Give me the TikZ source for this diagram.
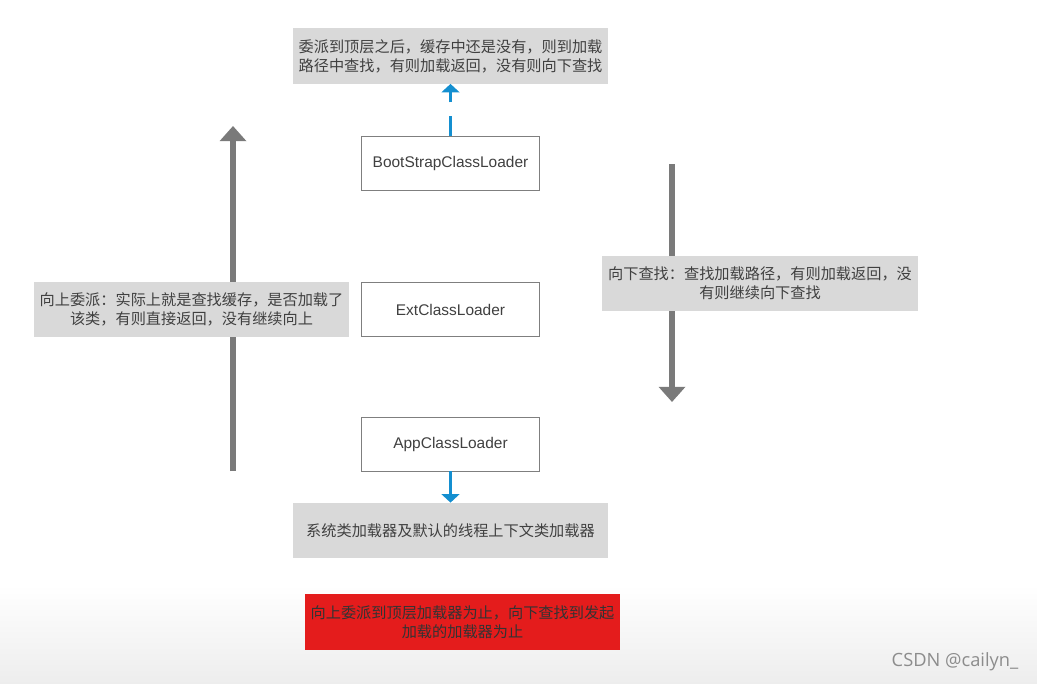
\documentclass[tikz,border=0pt]{standalone}
\usepackage{fontspec}
\setmainfont{Liberation Sans}
\newfontfamily\cjk{Noto Sans CJK SC}
\newfontfamily\wmfont{Open Sans}
\usetikzlibrary{arrows.meta}

\definecolor{textgray}{RGB}{64,64,64}
\definecolor{notegray}{RGB}{217,217,217}
\definecolor{framegray}{RGB}{127,127,127}
\definecolor{arrowgray}{RGB}{122,122,122}
\definecolor{linkblue}{RGB}{20,143,208}
\definecolor{warnred}{RGB}{228,28,28}

\begin{document}
\begin{tikzpicture}[x=0.025cm, y=-0.025cm,
	loaderbox/.style={draw=framegray, fill=white, line width=0.6pt, minimum width=4.45cm, minimum height=1.35cm, inner sep=0pt, text=textgray, font=\fontsize{11}{13}\selectfont},
	notebox/.style={fill=notegray, minimum width=7.875cm, minimum height=1.38cm, inner sep=0pt, align=center, text=textgray, font=\cjk\fontsize{10.8}{13.5}\selectfont},
	bigarrow/.style={draw=arrowgray, line width=0.16cm, -{Triangle[width=0.65cm, length=0.38cm]}},
	bluearrow/.style={draw=linkblue, line width=0.06cm, -{Triangle[width=0.44cm, length=0.21cm]}}]

		% Background
		\useasboundingbox (0,0) rectangle (1037,683);
		\fill[white] (0,0) rectangle (1037,683);
		\shade[top color=white, bottom color=black!7] (0,585) rectangle (1037,683);

		% Class loaders
		\node[loaderbox] (boot) at (450.5,163) {BootStrapClassLoader};
		\node[loaderbox] (ext) at (450.5,309.5) {ExtClassLoader};
		\node[loaderbox] (app) at (450.5,444) {AppClassLoader};

		% Notes above and below
		\node[notebox] (topnote) at (450.5,56) {委派到顶层之后，缓存中还是没有，则到加载\\路径中查找，有则加载返回，没有则向下查找};
		\node[notebox] (sysnote) at (450.5,530.5) {系统类加载器及默认的线程上下文类加载器};

		% Blue arrows
		\draw[bluearrow, dash pattern={on 0.48cm off 0.35cm}] (boot) -- (topnote);
		\draw[bluearrow] (app) -- (sysnote);

		% Upward delegation
		\coordinate (upFrom) at (233,471);
		\coordinate (upTo) at (233,126);
		\draw[bigarrow] (upFrom) -- (upTo);
		\node[notebox] (upnote) at (191.5,309.5) {向上委派：实际上就是查找缓存，是否加载了\\该类，有则直接返回，没有继续向上};

		% Downward search
		\coordinate (downFrom) at (672,164);
		\coordinate (downTo) at (672,402);
		\draw[bigarrow] (downFrom) -- (downTo);
		\node[notebox] (downnote) at (760,283.5) {向下查找：查找加载路径，有则加载返回，没\\有则继续向下查找};

		% Summary
		\node[notebox, fill=warnred, text=black!80] (summary) at (462.5,622) {向上委派到顶层加载器为止，向下查找到发起\\加载的加载器为止};

		% Watermark
		\node[text=black!45, font=\wmfont\fontsize{13}{15}\selectfont] (mark) at (955,662) {CSDN @cailyn\_};

	\end{tikzpicture}
\end{document}
